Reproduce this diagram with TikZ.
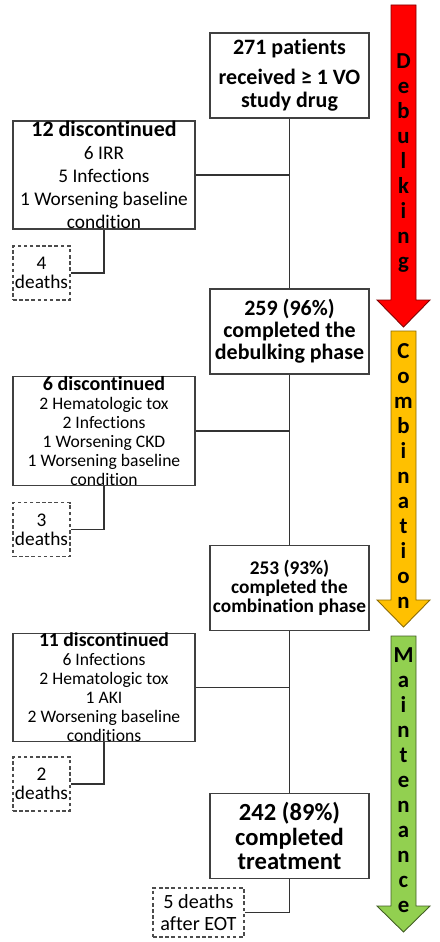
\documentclass[tikz,border=0pt]{standalone}
\usepackage{fontspec}
\setmainfont{Carlito}[Ligatures=CommonOff]
\usepackage{xcolor}
\usetikzlibrary{positioning}

\definecolor{phasered}{HTML}{FF0000}
\definecolor{phasegold}{HTML}{FFC000}
\definecolor{phasegreen}{HTML}{92D050}

\begin{document}
\begin{tikzpicture}[x=0.02cm, y=-0.02cm,
  main/.style={draw=black!75, line width=0.6pt, minimum width=3.18cm, minimum height=1.7cm, inner sep=0pt, align=center},
  disc/.style={draw=black!75, line width=0.6pt, minimum width=3.64cm, minimum height=2.16cm, inner sep=0pt, align=center},
  dead/.style={draw=black!70, dash pattern=on 2pt off 1.5pt, line width=0.6pt, minimum width=1.14cm, minimum height=1.08cm, inner sep=0pt, align=center, font=\fontsize{11}{10.8}\selectfont},
  link/.style={draw=black!80, line width=0.6pt},
  letters/.style={font=\bfseries\fontsize{13}{14.2}\selectfont, align=center, inner sep=0pt}
]
\useasboundingbox (0,0) rectangle (439,942);

% phase arrows
\filldraw[fill=phasered, draw=phasered!50!black, line width=0.5pt]
  (391,5) -- (416,5) -- (416,300) -- (430,300) -- (403.5,327) -- (377,300) -- (391,300) -- cycle;
\filldraw[fill=phasegold, draw=phasegold!55!black, line width=0.5pt]
  (391,331) -- (416,331) -- (416,600) -- (430,600) -- (403.5,627) -- (377,600) -- (391,600) -- cycle;
\filldraw[fill=phasegreen, draw=phasegreen!45!black, line width=0.5pt]
  (391,636) -- (416,636) -- (416,906) -- (430,906) -- (403.5,932) -- (377,906) -- (391,906) -- cycle;

\node[letters] (debulk) at (403.5,163) {D\\e\\b\\u\\l\\k\\i\\n\\g};
\node[letters] (combi)  at (403.5,476) {C\\o\\m\\b\\i\\n\\a\\t\\i\\o\\n};
\node[letters] (maint)  at (403.5,780) {M\\a\\i\\n\\t\\e\\n\\a\\n\\c\\e};

% main flow
\node[main, font=\bfseries\fontsize{12.5}{13}\selectfont] (b1) at (289.5,75.5) {271 patients\\[4pt] received ≥ 1 VO\\ study drug};
\node[main, font=\bfseries\fontsize{12.5}{12.5}\selectfont] (b2) at (289.5,331.5) {259 (96\%)\\ completed the\\ debulking phase};
\node[main, font=\bfseries\fontsize{11}{11}\selectfont] (b3) at (289.5,588) {253 (93\%)\\ completed the\\ combination phase};
\node[main, font=\bfseries\fontsize{14}{14}\selectfont] (b4) at (289.5,836) {242 (89\%)\\ completed\\ treatment};

% discontinuations
\node[disc, font=\fontsize{11}{13}\selectfont] (d1) at (104,175) {{\bfseries\fontsize{12.5}{13}\selectfont 12 discontinued}\\ 6 IRR\\ 5 Infections\\ 1 Worsening baseline\\ condition};
\node[disc, font=\fontsize{10}{10.8}\selectfont] (d2) at (104,431) {{\bfseries\fontsize{11.4}{10.8}\selectfont 6 discontinued}\\ 2 Hematologic tox\\ 2 Infections\\ 1 Worsening CKD\\ 1 Worsening baseline\\ condition};
\node[disc, font=\fontsize{10}{10.8}\selectfont] (d3) at (104,687.5) {{\bfseries\fontsize{11.2}{10.8}\selectfont 11 discontinued}\\ 6 Infections\\ 2 Hematologic tox\\ 1 AKI\\ 2 Worsening baseline\\ conditions};

% deaths
\node[dead] (x1) at (41.5,273) {4\\ deaths};
\node[dead] (x2) at (41.5,529.5) {3\\ deaths};
\node[dead] (x3) at (41.5,784) {2\\ deaths};
\node[dead, minimum width=1.82cm, minimum height=0.98cm, font=\fontsize{11.5}{12.5}\selectfont] (x4) at (198.5,912.5) {5 deaths\\ after EOT};

% connectors
\draw[link] (b1) -- (b2);
\draw[link] (b2) -- (b3);
\draw[link] (b3) -- (b4);
\draw[link] (d1.east) -- (d1.east -| b1.south);
\draw[link] (d2.east) -- (d2.east -| b2.south);
\draw[link] (d3.east) -- (d3.east -| b3.south);
\draw[link] (d1.south) |- (x1.east);
\draw[link] (d2.south) |- (x2.east);
\draw[link] (d3.south) |- (x3.east);
\draw[link] (b4.south) |- (x4.east);

\end{tikzpicture}
\end{document}
